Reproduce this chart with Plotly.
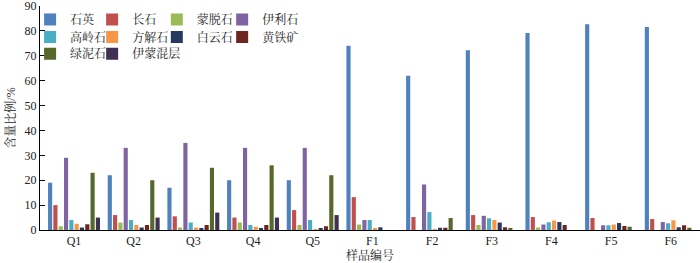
import plotly.graph_objects as go

categories = ["Q1", "Q2", "Q3", "Q4", "Q5", "F1", "F2", "F3", "F4", "F5", "F6"]

quartz      = [19, 22, 17, 20, 20, 74, 62, 72.2, 79.2, 82.7, 81.6]
feldspar    = [10, 6, 5.5, 5, 8, 13.2, 5.2, 6.0, 5.2, 4.8, 4.4]
smectite    = [1.5, 3, 1, 3, 2, 2.2, 0, 2.0, 1.0, 0, 0]
illite      = [29, 33, 35, 33, 33, 4, 18.3, 5.7, 2.2, 1.9, 3.2]
kaolinite   = [4, 4, 3, 2, 4, 4, 7.2, 4.7, 3.1, 1.9, 2.7]
calcite     = [2.5, 2, 1, 1.3, 0.4, 0.5, 0.3, 4.0, 3.8, 2.2, 3.9]
dolomite    = [1, 1, 0.5, 0.8, 0.8, 1.1, 0.9, 3.0, 3.2, 2.8, 1.1]
pyrite      = [2.3, 2, 2, 2, 1.5, 0, 0.9, 1.1, 2.0, 1.6, 1.9]
chlorite    = [23, 20, 25, 26, 22, 0, 4.8, 0.6, 0, 1.3, 0.9]
illite_smec = [5, 5, 7, 5, 6, 0, 0, 0, 0, 0, 0]

series_names = ["石英", "长石", "蒙脱石", "伊利石", "高岭石", "方解石", "白云石", "黄铁矿", "绿泥石", "伊蒙混层"]
series_values = [quartz, feldspar, smectite, illite, kaolinite, calcite, dolomite, pyrite, chlorite, illite_smec]
colors = ["#4F81BD", "#C0504D", "#9BBB59", "#8064A2", "#4BACC6", "#F79646",
          "#263A5E", "#6E2421", "#56682B", "#403152"]

# legend grid: 4 columns x 3 rows
leg_cols_x = [-0.015, 0.079, 0.177, 0.276]
leg_rows_y = [0.94, 0.862, 0.787]

FONT = "Liberation Serif, Noto Serif CJK SC, Noto Sans CJK SC, serif"

fig = go.Figure()
legends = {}
for i, (name, vals, col) in enumerate(zip(series_names, series_values, colors)):
    lid = "legend" if i == 0 else f"legend{i + 1}"
    fig.add_trace(go.Bar(
        x=categories, y=vals, name=name, legend=lid, showlegend=True,
        marker=dict(color=col, line=dict(width=0)),
    ))
    legends[lid] = dict(
        orientation="h", x=leg_cols_x[i % 4], xanchor="left",
        y=leg_rows_y[i // 4], yanchor="middle", itemwidth=30,
        font=dict(family=FONT, size=12, color="#222"),
        bgcolor="rgba(0,0,0,0)", visible=True,
    )

fig.update_layout(
    width=700, height=263, showlegend=True,
    margin=dict(l=40, r=0, t=6, b=33, autoexpand=False),
    plot_bgcolor="white", paper_bgcolor="white",
    barmode="group", bargap=0.11, bargroupgap=0.22,
    font=dict(family=FONT, size=12, color="#222"),
    xaxis=dict(
        range=[-0.57, 10.49], showline=True, linecolor="black", linewidth=1,
        ticks="", showgrid=False, automargin=False,
        title=dict(text="样品编号", font=dict(size=12), standoff=2),
        tickfont=dict(size=12),
    ),
    yaxis=dict(
        range=[0, 90], tickvals=list(range(0, 91, 10)), showline=True,
        linecolor="black", linewidth=1, ticklabeloverflow="allow",
        ticks="inside", ticklen=5, tickcolor="black", showgrid=False, zeroline=False,
        automargin=False,
        title=dict(text="含量比例/%", font=dict(size=12), standoff=6),
        tickfont=dict(size=12),
    ),
    **legends,
)

fig.write_html("out.html", config={"displayModeBar": False},
               post_script="document.body.style.margin='0';")
